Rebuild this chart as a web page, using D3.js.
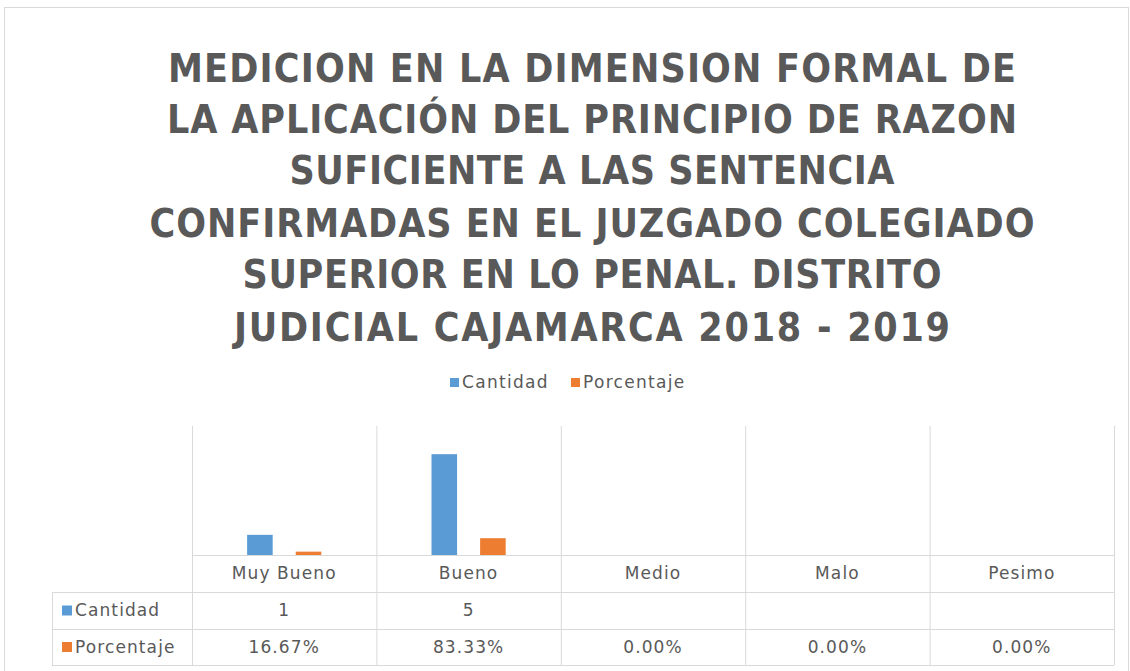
<!DOCTYPE html>
<html>
<head>
<meta charset="utf-8">
<script src="https://cdn.jsdelivr.net/npm/d3@7"></script>
<style>
  body { margin: 0; background: #fff; }
  text { font-family: "DejaVu Sans", sans-serif; fill: #595959; }
</style>
</head>
<body>
<svg id="chart" width="1130" height="671"></svg>
<script>
// Data
var categories = ['Muy Bueno', 'Bueno', 'Medio', 'Malo', 'Pesimo'];
var series = ['Cantidad', 'Porcentaje'];
var cantidad = [1, 5, null, null, null];
var porcentaje = [0.1667, 0.8333, 0, 0, 0];
var cantidadLabels = ['1', '5', '', '', ''];
var porcentajeLabels = ['16.67%', '83.33%', '0.00%', '0.00%', '0.00%'];
var titleLines = [
    'MEDICION EN LA DIMENSION FORMAL DE',
    'LA APLICACIÓN DEL PRINCIPIO DE RAZON',
    'SUFICIENTE A LAS SENTENCIA',
    'CONFIRMADAS EN EL JUZGADO COLEGIADO',
    'SUPERIOR EN LO PENAL. DISTRITO',
    'JUDICIAL CAJAMARCA  2018 - 2019'
];
var colors = {Cantidad: '#5b9bd5', Porcentaje: '#ed7d31'};
var gridColor = '#d9d9d9';

var svg = d3.select('#chart');

// chart frame
svg.append('rect')
    .attr('x', 4.5).attr('y', 7.5)
    .attr('width', 1124).attr('height', 670)
    .attr('fill', 'none')
    .attr('stroke', '#d9d9d9');

// Title
var titleWidths = [848, 850, 605, 885, 699, 716];
var titleBase = [82, 133, 184, 237, 288, 341];
svg.append('g').selectAll('text')
    .data(titleLines)
    .enter().append('text')
    .attr('x', 592)
    .attr('y', (d, i) => titleBase[i])
    .attr('text-anchor', 'middle')
    .attr('textLength', (d, i) => titleWidths[i])
    .attr('lengthAdjust', 'spacing')
    .style('font-family', '"DejaVu Sans Condensed", "Open Sans", sans-serif')
    .style('font-weight', 'bold')
    .style('font-size', '39px')
    .text(d => d);

// Legend
var legend = svg.append('g').attr('transform', 'translate(450,382)');
var legX = [0, 121];
series.forEach(function (s, i) {
    legend.append('rect')
        .attr('x', legX[i]).attr('y', -4)
        .attr('width', 9).attr('height', 9)
        .attr('fill', colors[s]);
    legend.append('text')
        .attr('x', legX[i] + 12).attr('y', 0)
        .attr('dy', '0.35em')
        .style('font-size', '17px')
        .style('letter-spacing', '1.3px')
        .text(s);
});

// Plot
var plotLeft = 192, plotRight = 1114, plotTop = 434, plotBase = 555;
var rowLines = [555, 592, 629, 665];

var x0 = d3.scaleBand().domain(categories).range([plotLeft, plotRight]);
var x1 = d3.scaleBand().domain(series).range([0, x0.bandwidth()])
    .paddingInner(0.474).paddingOuter(1.134);
var y = d3.scaleLinear().domain([0, 6]).range([plotBase, plotTop]);

var g = svg.append('g');

// column dividers
var colEdges = categories.map(c => x0(c)).concat([plotRight]);
g.selectAll('line.col')
    .data(colEdges)
    .enter().append('line')
    .attr('class', 'col')
    .attr('x1', d => d + 0.5).attr('x2', d => d + 0.5)
    .attr('y1', 426).attr('y2', rowLines[3])
    .attr('stroke', gridColor);

// table row lines
g.selectAll('line.row')
    .data(rowLines)
    .enter().append('line')
    .attr('class', 'row')
    .attr('x1', (d, i) => i === 0 ? plotLeft : 52).attr('x2', plotRight)
    .attr('y1', d => d + 0.5).attr('y2', d => d + 0.5)
    .attr('stroke', gridColor);
g.append('line')
    .attr('x1', 52.5).attr('x2', 52.5)
    .attr('y1', rowLines[1]).attr('y2', rowLines[3])
    .attr('stroke', gridColor);

// bars
var barData = [];
categories.forEach(function (c, i) {
    barData.push({cat: c, s: 'Cantidad', v: cantidad[i]});
    barData.push({cat: c, s: 'Porcentaje', v: porcentaje[i]});
});
g.selectAll('rect.bar')
    .data(barData.filter(d => d.v))
    .enter().append('rect')
    .attr('class', 'bar')
    .attr('x', d => x0(d.cat) + x1(d.s))
    .attr('y', d => y(d.v))
    .attr('width', x1.bandwidth())
    .attr('height', d => plotBase - y(d.v))
    .attr('fill', d => colors[d.s]);

// category labels
g.selectAll('text.cat')
    .data(categories)
    .enter().append('text')
    .attr('class', 'cat')
    .attr('x', d => x0(d) + x0.bandwidth() / 2)
    .attr('y', (rowLines[0] + rowLines[1]) / 2)
    .attr('dy', '0.35em')
    .attr('text-anchor', 'middle')
    .style('font-size', '17px')
    .style('letter-spacing', '1.1px')
    .text(d => d);

// table rows
var rows = [
    {name: 'Cantidad', labels: cantidadLabels},
    {name: 'Porcentaje', labels: porcentajeLabels}
];
rows.forEach(function (r, ri) {
    var cy = (rowLines[ri + 1] + rowLines[ri + 2]) / 2;
    g.append('rect')
        .attr('x', 62).attr('y', cy - 5)
        .attr('width', 10).attr('height', 10)
        .attr('fill', colors[r.name]);
    g.append('text')
        .attr('x', 75).attr('y', cy)
        .attr('dy', '0.35em')
        .style('font-size', '17px')
        .style('letter-spacing', '1.1px')
        .text(r.name);
    g.selectAll('text.val' + ri)
        .data(r.labels)
        .enter().append('text')
        .attr('class', 'val' + ri)
        .attr('x', (d, i) => x0(categories[i]) + x0.bandwidth() / 2)
        .attr('y', cy)
        .attr('dy', '0.35em')
        .attr('text-anchor', 'middle')
        .style('font-size', '17px')
        .style('letter-spacing', '1.1px')
        .text(d => d);
});
</script>
</body>
</html>
